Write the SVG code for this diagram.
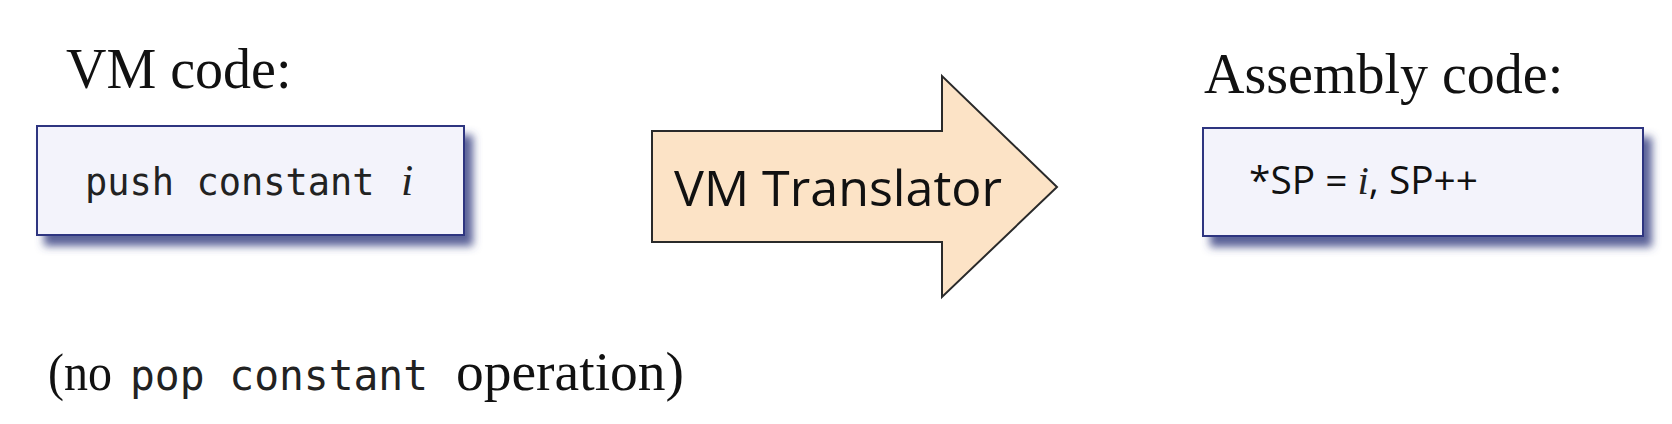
<svg xmlns="http://www.w3.org/2000/svg" width="1672" height="424" viewBox="0 0 1672 424">
<style>
.title{font-family:"Liberation Serif","Times New Roman",serif;font-size:56px;fill:#111;}
.box{fill:#f3f3fb;stroke:#2e3480;stroke-width:2;}
.mono{font-family:"DejaVu Sans Mono","Liberation Mono",monospace;fill:#222;}
.ital{font-family:"Liberation Serif","Times New Roman",serif;font-style:italic;fill:#222;}
.sans{font-family:"Open Sans","Liberation Sans",sans-serif;fill:#111;}
.serif{font-family:"Liberation Serif","Times New Roman",serif;fill:#111;}
</style>
<defs>
<filter id="shadow" x="-10%" y="-20%" width="130%" height="170%">
<feDropShadow dx="8" dy="10" stdDeviation="4" flood-color="#3c4585" flood-opacity="0.85"/>
</filter>
</defs>
<rect width="1672" height="424" fill="#ffffff"/>

<g id="vm-code">
<text class="title" x="66" y="88">VM code:</text>
<rect class="box" x="37" y="126" width="427" height="109" filter="url(#shadow)"/>
<text class="mono" x="85" y="195" font-size="37">push constant</text>
<text class="ital" x="401" y="195" font-size="44">i</text>
</g>

<g id="translator">
<path d="M652,131 L942,131 L942,76 L1057,187 L942,297 L942,242 L652,242 Z" fill="#fce3c6" stroke="#2a2a2a" stroke-width="2" stroke-linejoin="miter"/>
<text class="sans" x="674" y="206" font-size="49" textLength="328" lengthAdjust="spacingAndGlyphs">VM Translator</text>
</g>

<g id="assembly-code">
<text class="title" x="1204" y="93" font-size="58">Assembly code:</text>
<rect class="box" x="1203" y="128" width="440" height="108" filter="url(#shadow)"/>
<text class="sans" x="1249" y="194" font-size="38" textLength="229" lengthAdjust="spacingAndGlyphs">*SP = <tspan class="ital" font-size="40">i</tspan>, SP++</text>
</g>

<g id="note">
<text class="serif" x="48" y="390" font-size="52" textLength="64" lengthAdjust="spacingAndGlyphs">(no</text>
<text class="mono" x="130" y="390" font-size="42" textLength="298" lengthAdjust="spacingAndGlyphs">pop constant</text>
<text class="serif" x="456" y="390" font-size="54" textLength="228" lengthAdjust="spacingAndGlyphs">operation)</text>
</g>

<g id="connectors"></g>
</svg>
